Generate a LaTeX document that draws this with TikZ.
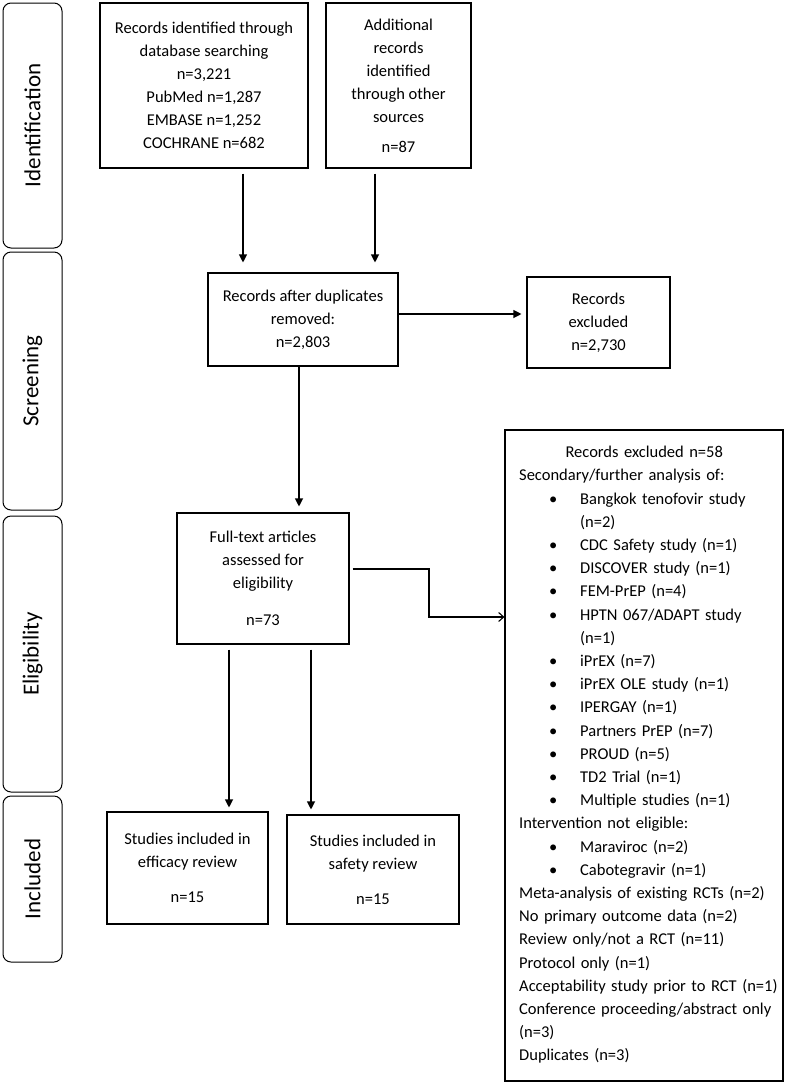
\documentclass[tikz,border=0pt]{standalone}
\usepackage{fontspec}
\setmainfont{Carlito}
\usetikzlibrary{arrows.meta}
\newcommand{\bitem}[1]{\hspace*{30pt}\makebox[31pt][l]{\textbullet}#1}
\newcommand{\bcont}[1]{\hspace*{61pt}#1}
\begin{document}
\begin{tikzpicture}[x=1pt,y=-1pt,
  box/.style={draw, line width=1.1pt, align=center, inner sep=0pt, font=\fontsize{16.5}{23}\selectfont},
  lane/.style={draw, line width=1pt, rounded corners=8pt, inner sep=0pt, minimum width=59pt},
  lanetext/.style={rotate=90, inner sep=0pt, font=\fontsize{23}{26}\selectfont},
  arr/.style={line width=1.1pt, -{Triangle[length=8pt,width=8pt]}},
  openarr/.style={line width=1.1pt, -{Straight Barb[length=5pt,width=9pt]}},
]
\fill[white] (0,0) rectangle (787,1085);
\useasboundingbox (0,0) rectangle (787,1085);

% lanes
\node[lane, minimum height=245pt] (lid) at (32.5,125.5) {};
\node[lanetext] (tid) at (lid) {Identification};
\node[lane, minimum height=258pt] (lsc) at (32.5,381) {};
\node[lanetext] (tsc) at (lsc) {Screening};
\node[lane, minimum height=276pt] (lel) at (32.5,654) {};
\node[lanetext] (tel) at (lel) {Eligibility};
\node[lane, minimum height=166pt] (lin) at (32.5,879) {};
\node[lanetext] (tin) at (lin) {Included};

% boxes
\node[box, minimum width=208pt, minimum height=165pt] (b1) at (204,85.5)
  {Records identified through\\database searching\\n=3,221\\PubMed n=1,287\\EMBASE n=1,252\\COCHRANE n=682};
\node[box, minimum width=145pt, minimum height=165pt] (b2) at (398.5,85.5)
  {Additional\\records\\identified\\through other\\sources\\[7pt]n=87};
\node[box, minimum width=190pt, minimum height=93pt] (b3) at (303,319.5)
  {Records after duplicates\\removed:\\n=2,803};
\node[box, minimum width=143pt, minimum height=91pt] (ex1) at (598.5,322.5)
  {Records\\excluded\\n=2,730};
\node[box, minimum width=172pt, minimum height=131pt] (ft) at (263,578.5)
  {Full-text articles\\assessed for\\eligibility\\[14pt]n=73};
\node[box, minimum width=161pt, minimum height=112pt] (eff) at (187.5,868)
  {Studies included in\\efficacy review\\[12pt]n=15};
\node[box, minimum width=172pt, minimum height=109pt] (saf) at (373,869.5)
  {Studies included in\\safety review\\[12pt]n=15};
\node[box, minimum width=278pt, minimum height=651pt] (ex2) at (644,755.5) {};
\node[anchor=north west, inner sep=0pt, align=left, text width=270pt,
      font=\fontsize{16.5}{23.2}\selectfont] (ex2t) at (519,446)
  {\makebox[250pt]{Records excluded n=58}\\
   Secondary/further analysis of:\\
   \bitem{Bangkok tenofovir study}\\
   \bcont{(n=2)}\\
   \bitem{CDC Safety study (n=1)}\\
   \bitem{DISCOVER study (n=1)}\\
   \bitem{FEM-PrEP (n=4)}\\
   \bitem{HPTN 067/ADAPT study}\\
   \bcont{(n=1)}\\
   \bitem{iPrEX (n=7)}\\
   \bitem{iPrEX OLE study (n=1)}\\
   \bitem{IPERGAY (n=1)}\\
   \bitem{Partners PrEP (n=7)}\\
   \bitem{PROUD (n=5)}\\
   \bitem{TD2 Trial (n=1)}\\
   \bitem{Multiple studies (n=1)}\\
   Intervention not eligible:\\
   \bitem{Maraviroc (n=2)}\\
   \bitem{Cabotegravir (n=1)}\\
   Meta-analysis of existing RCTs (n=2)\\
   No primary outcome data (n=2)\\
   Review only/not a RCT (n=11)\\
   Protocol only (n=1)\\
   Acceptability study prior to RCT (n=1)\\
   Conference proceeding/abstract only\\
   (n=3)\\
   Duplicates (n=3)};

% connectors
\draw[arr, shorten <=5pt, shorten >=10pt] (243,0 |- b1.south) -- (243,0 |- b3.north);
\draw[arr, shorten <=5pt, shorten >=10pt] (375,0 |- b2.south) -- (375,0 |- b3.north);
\draw[arr, shorten >=5pt] (b3.east |- 0,314) -- (ex1.west |- 0,314);
\draw[arr, shorten >=6pt] (299,0 |- b3.south) -- (299,0 |- ft.north);
\coordinate (elb1) at (429,569);
\coordinate (elb2) at (429,617);
\draw[openarr, shorten <=3pt] (ft.east |- elb1) -- (elb1) -- (elb2) -- (ex2.west |- elb2);
\draw[arr, shorten <=5pt, shorten >=4pt] (229,0 |- ft.south) -- (229,0 |- eff.north);
\draw[arr, shorten <=5pt, shorten >=5pt] (311,0 |- ft.south) -- (311,0 |- saf.north);
\end{tikzpicture}
\end{document}
